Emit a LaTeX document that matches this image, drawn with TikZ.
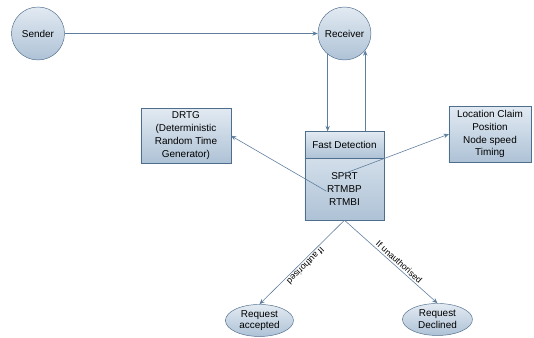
\documentclass[tikz,border=0pt]{standalone}
\usepackage{fontspec}
\setmainfont{Liberation Sans}
\usepackage{tikz}
\usetikzlibrary{positioning,arrows.meta,shapes.geometric,calc}
\definecolor{rim}{HTML}{4F6D8C}
\definecolor{wire}{HTML}{5E7E9E}
\definecolor{topc}{HTML}{E2EAF2}
\definecolor{botc}{HTML}{AEC2D6}
\tikzset{
  actor/.style={circle, draw=rim, top color=topc, bottom color=botc, minimum size=1.59cm, inner sep=0pt,
                font=\fontsize{8.5}{11}\selectfont},
  box/.style={rectangle, draw=rim, top color=topc, bottom color=botc, align=center, inner sep=2pt, outer sep=0pt,
              font=\fontsize{8.5}{11}\selectfont},
  outcome/.style={ellipse, draw=rim, top color=topc, bottom color=botc, align=center, inner sep=0pt,
                  minimum width=2.04cm, minimum height=0.96cm, font=\fontsize{8.5}{10}\selectfont},
  flow/.style={-{Stealth[length=1.6mm, width=1.3mm]}, line width=0.5pt, draw=wire},
  cond/.style={font=\fontsize{7.5}{8}\selectfont, inner sep=1.5pt},
}
\begin{document}
\begin{tikzpicture}
  \node[actor] (snd) {Sender};
  \node[actor, right=7.59cm of snd] (rcv) {Receiver};
  \useasboundingbox ($(snd.center)+(-1.14,1.005)$) rectangle ++(16.02,-10.14);
  \node[box, below=2.13cm of rcv, minimum width=2.37cm, minimum height=0.81cm] (fd) {Fast Detection};
  \node[box, below=0pt of fd, minimum width=2.37cm, minimum height=1.86cm, top color=topc!70!botc] (fdalg)
        {SPRT\\RTMBP\\RTMBI};
  \node[box, left=2.22cm of fd, yshift=0.27cm, minimum width=2.7cm, minimum height=1.65cm] (drtg)
        {DRTG\\(Deterministic\\Random Time\\Generator)};
  \node[box, right=1.95cm of fd, yshift=0.32cm, minimum width=2.46cm, minimum height=1.68cm] (loc)
        {Location Claim\\Position\\Node speed\\Timing};
  \node[outcome, below=2.52cm of fdalg.south, xshift=-2.55cm] (acc) {Request\\accepted};
  \node[outcome, below=2.49cm of fdalg.south, xshift=2.79cm, minimum width=2.1cm] (decl) {Request\\Declined};
  \draw[flow] (snd) -- (rcv);
  \draw[flow] (rcv.-129) -- (rcv.-129 |- fd.north);
  \draw[flow] (rcv.-39 |- fd.north) -- (rcv.-39);
  \draw[flow] ($(fdalg.center)+(-0.54,-0.06)$) -- (drtg.east);
  \draw[flow] ($(fdalg.center)+(-0.06,0.45)$) -- (loc.west);
  \draw[flow] (fdalg.south) -- node[cond, sloped, allow upside down, above] {If authorised} (acc.north);
  \draw[flow] (fdalg.south) -- node[cond, sloped, above, pos=0.55] {If unauthorised} (decl.north);
\end{tikzpicture}
\end{document}
